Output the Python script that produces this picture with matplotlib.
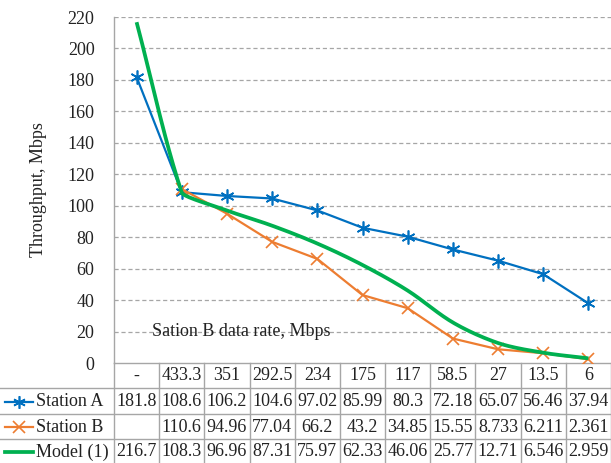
import numpy as np
import matplotlib
matplotlib.use("Agg")
import matplotlib.pyplot as plt
from matplotlib.transforms import blended_transform_factory
from matplotlib.lines import Line2D

# ---- data ----
categories = ['-', '433.3', '351', '292.5', '234', '175', '117', '58.5', '27', '13.5', '6']
station_a = [181.8, 108.6, 106.2, 104.6, 97.02, 85.99, 80.3, 72.18, 65.07, 56.46, 37.94]
station_b = [None, 110.6, 94.96, 77.04, 66.2, 43.2, 34.85, 15.55, 8.733, 6.211, 2.361]
model_1 = [216.7, 108.3, 96.96, 87.31, 75.97, 62.33, 46.06, 25.77, 12.71, 6.546, 2.959]
series_names = ['Station A', 'Station B', 'Model (1)']
y_ticks = list(range(0, 221, 20))

plt.rcParams['font.family'] = ['Liberation Serif', 'DejaVu Serif']
plt.rcParams['lines.scale_dashes'] = False

W, H = 611, 463
fig = plt.figure(figsize=(W / 100, H / 100), dpi=100)
L, R, T, B = 114, 611, 17, 363
ax = fig.add_axes([L / W, 1 - B / H, (R - L) / W, (B - T) / H])

blue = '#0070C0'
orange = '#ED7D31'
green = '#00B050'
gridc = '#a6a6a6'
txtc = '#222222'
fs = 13

n = len(categories)
x = np.arange(n)

ax.set_xlim(-0.5, n - 0.5)
ax.set_ylim(0, 220)


def smooth_pixel(xs, ys, steps=24):
    """Smoothed line (Bezier through the points) computed in display space."""
    P = ax.transData.transform(np.column_stack([xs, ys]))
    m = len(P)
    seg = [P[i + 1] - P[i] for i in range(m - 1)]
    dl = [np.linalg.norm(s) for s in seg]
    U = [s / d for s, d in zip(seg, dl)]
    Tn = []
    for i in range(m):
        if i == 0:
            t = U[0]
        elif i == m - 1:
            t = U[-1]
        else:
            t = U[i - 1] * dl[i - 1] ** 2 + U[i] * dl[i] ** 2
            t = t / np.linalg.norm(t)
        Tn.append(t)
    out = []
    for i in range(m - 1):
        d = dl[i]
        k1 = min(1.0, d / dl[i - 1]) if i > 0 else 1.0
        k2 = min(1.0, d / dl[i + 1]) if i + 1 < m - 1 else 1.0
        c1 = P[i] + Tn[i] * d / 3 * k1
        c2 = P[i + 1] - Tn[i + 1] * d / 3 * k2
        t = np.linspace(0, 1, steps, endpoint=(i == m - 2))[:, None]
        out.append((1 - t) ** 3 * P[i] + 3 * (1 - t) ** 2 * t * c1
                   + 3 * (1 - t) * t ** 2 * c2 + t ** 3 * P[i + 1])
    out = np.vstack(out)
    dd = ax.transData.inverted().transform(out)
    return dd[:, 0], dd[:, 1]


ax.plot(x, station_a, color=blue, lw=1.6, marker=(6, 2, 0), ms=10, mew=1.2, zorder=3)
bx = [i for i, v in enumerate(station_b) if v is not None]
by = [v for v in station_b if v is not None]
ax.plot(bx, by, color=orange, lw=1.6, marker='x', ms=9, mew=1.2, zorder=4)
sx, sy = smooth_pixel(x, model_1)
ax.plot(sx, sy, color=green, lw=2.7, zorder=5, solid_capstyle='butt', solid_joinstyle='round')

ax.set_yticks(y_ticks)
ax.set_xticks([])
ax.tick_params(axis='y', length=0, labelsize=fs, pad=14, labelcolor=txtc)
for s in ['top', 'right']:
    ax.spines[s].set_visible(False)
for s in ['left', 'bottom']:
    ax.spines[s].set_color(gridc)
    ax.spines[s].set_linewidth(1.0)
for yv in y_ticks[1:]:
    ax.axhline(yv, color=gridc, lw=0.9, linestyle=(0, (3, 2)), zorder=1)
ax.set_ylabel('Throughput, Mbps', fontsize=fs, color=txtc)
ax.yaxis.set_label_coords(-67 / (R - L), 0.5)
ax.text((152 - L) / (R - L), (B - 332) / (B - T), 'Sation B data rate, Mbps',
        transform=ax.transAxes, fontsize=fs, va='center', ha='left', color=txtc)

# ---- data table ----
tr = blended_transform_factory(ax.transData, fig.transFigure)


def fy(p):
    return 1 - p / H


rows_y = [363, 388, 414, 439, 464]
for yy in rows_y[1:4]:
    fig.add_artist(Line2D([0, 1], [fy(yy), fy(yy)], transform=fig.transFigure,
                          color=gridc, lw=1.0))
for i in range(n + 1):
    xb = i - 0.5
    fig.add_artist(Line2D([xb, xb], [fy(363), fy(463)], transform=tr, color=gridc, lw=1.0))


def cy(r):
    return fy((rows_y[r] + rows_y[r + 1]) / 2 + 0.5)


for i, c in enumerate(categories):
    fig.text(i, cy(0), c, transform=tr, ha='center', va='center', fontsize=fs, color=txtc)
table_rows = [station_a, station_b, model_1]
for r, vals in enumerate(table_rows):
    for i, v in enumerate(vals):
        if v is None:
            continue
        fig.text(i, cy(r + 1), str(v), transform=tr, ha='center', va='center',
                 fontsize=fs, color=txtc)

keys = [(blue, (6, 2, 0), 9), (orange, 'x', 8), (green, None, 0)]
for r, (col, mk, ms) in enumerate(keys):
    yk = cy(r + 1)
    lw = 2.7 if mk is None else 1.6
    fig.add_artist(Line2D([5 / W, 33 / W], [yk, yk], transform=fig.transFigure,
                          color=col, lw=lw))
    if mk is not None:
        fig.add_artist(Line2D([19 / W], [yk], transform=fig.transFigure, color=col,
                              marker=mk, ms=ms, mew=1.2, linestyle='none'))
    fig.text(36 / W, yk, series_names[r], transform=fig.transFigure, ha='left',
             va='center', fontsize=fs, color=txtc)

fig.savefig('out.png', dpi=100)
